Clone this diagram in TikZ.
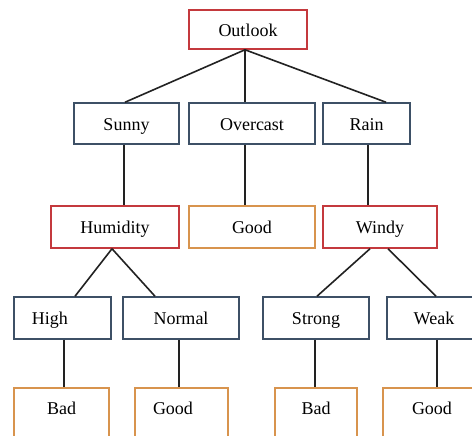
\documentclass[tikz,border=0pt]{standalone}
\usepackage{fontspec}
\setmainfont{Liberation Serif}
\usepackage{tikz}
\usetikzlibrary{positioning}
\definecolor{splitred}{HTML}{C4393D}
\definecolor{valblue}{HTML}{3D5066}
\definecolor{leaforange}{HTML}{D8944E}
\definecolor{edgegray}{HTML}{222222}

\begin{document}
\begin{tikzpicture}[x=0.5pt,y=-0.5pt,
  box/.style={draw,line width=0.75pt,inner sep=0pt,font=\fontsize{9}{10}\selectfont,
    text height=1.44ex,text depth=0pt,fill=white},
  attr/.style={box,draw=splitred},
  val/.style={box,draw=valblue},
  leaf/.style={box,draw=leaforange},
  cutleaf/.style={leaf,minimum height=28pt,text depth=8.5pt}]
% ---- frame (the bottom row runs off the page) ----
\clip (0,0) rectangle (472,435);
\fill[white] (0,0) rectangle (472,435);
% ---- level 0 ----
\node[attr,minimum width=59pt,minimum height=19.5pt] (outlook) at (248,29.5) {Outlook};
% ---- level 1 ----
\node[val,minimum width=52.5pt,minimum height=20.5pt] (sunny) at (126.5,123.5) {Sunny};
\node[val,minimum width=63pt,minimum height=20.5pt] (overcast) at (252,123.5) {Overcast};
\node[val,minimum width=43.5pt,minimum height=20.5pt] (rain) at (366.5,123.5) {Rain};
% ---- level 2 ----
\node[attr,minimum width=64pt,minimum height=21pt] (humidity) at (115,227) {Humidity};
\node[leaf,minimum width=63pt,minimum height=21pt] (good1) at (252,227) {Good};
\node[attr,minimum width=57pt,minimum height=21pt] (windy) at (380,227) {Windy};
% ---- level 3 ----
\node[val,minimum width=48.5pt,minimum height=21pt] (high) at (62.5,318) {High\hspace*{12.5pt}};
\node[val,minimum width=58pt,minimum height=21pt] (normal) at (181,318) {Normal};
\node[val,minimum width=53pt,minimum height=21pt] (strong) at (316,318) {Strong};
\node[val,minimum width=47pt,minimum height=21pt] (weak) at (434,318) {Weak};
% ---- level 4 ----
\node[cutleaf,minimum width=47.5pt] (bad1) at (61.5,416) {Bad};
\node[cutleaf,minimum width=46.5pt] (good2) at (181.5,416) {Good\hspace*{8.5pt}};
\node[cutleaf,minimum width=41pt] (bad2) at (316,416) {Bad};
\node[cutleaf,minimum width=49pt] (good3) at (432,416) {Good};
% ---- branches ----
\foreach \up/\su/\dn/\sd in {outlook/-1.5/sunny/-0.75, outlook/-1.5/overcast/-3.5,
    outlook/-1.5/rain/9.75, sunny/-1.25/humidity/4.5, overcast/-3.5/good1/-3.5,
    rain/0.75/windy/-6, humidity/-1.5/high/6.25, humidity/-1.5/normal/-13,
    windy/-5/strong/0.5, windy/4/weak/1, high/0.75/bad1/1.25, normal/-1/good2/-1.25,
    strong/-0.5/bad2/-0.5, weak/1.5/good3/2.5}
  \draw[edgegray,line width=0.8pt] ([xshift=\su pt]\up.south) -- ([xshift=\sd pt]\dn.north);
\end{tikzpicture}
\end{document}
